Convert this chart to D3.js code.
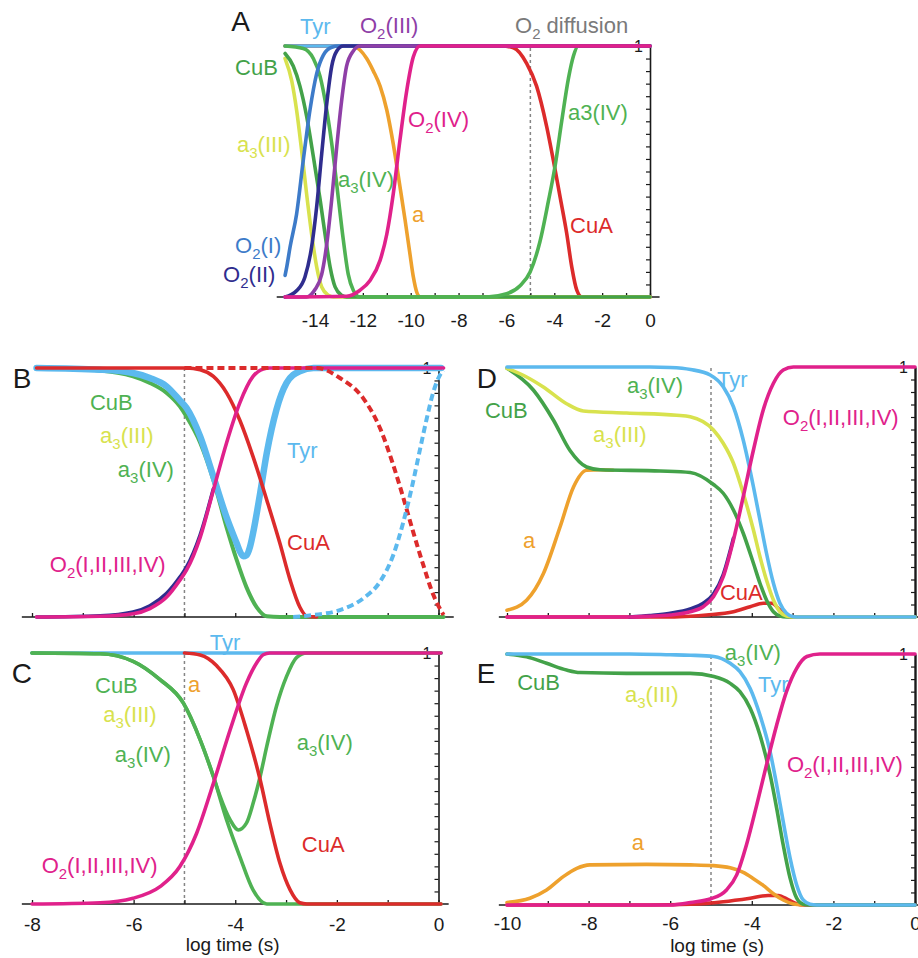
<!DOCTYPE html>
<html>
<head>
<meta charset="utf-8">
<script src="https://cdn.jsdelivr.net/npm/d3@7"></script>
<style>
  body { margin: 0; background: #fff; }
  svg { display: block; font-family: "Liberation Sans", Arial, Helvetica, sans-serif; }
</style>
</head>
<body>
<div id="chart"></div>
<script>
/* Five panels of fraction-completed curves vs log time */

// ---- panel A values [log time, fraction] ----
const aTyr = [[-15.25, 1], [0, 1]];
const aA3III = [[-15.25, 0.95], [-14.97, 0.86], [-14.77, 0.745], [-14.56, 0.585], [-14.35, 0.41], [-14.14, 0.25], [-13.93, 0.12], [-13.72, 0.04], [-13.44, 0.007], [-13.23, 0], [0, 0]];
const aCuB = [[-15.25, 0.97], [-14.91, 0.92], [-14.63, 0.84], [-14.35, 0.72], [-14.07, 0.56], [-13.79, 0.39], [-13.58, 0.25], [-13.37, 0.12], [-13.16, 0.04], [-12.89, 0.007], [-12.68, 0], [0, 0]];
const aA3IV = [[-15.25, 1], [-14.49, 0.99], [-14.07, 0.95], [-13.79, 0.88], [-13.51, 0.745], [-13.23, 0.56], [-13.02, 0.39], [-12.82, 0.23], [-12.61, 0.09], [-12.4, 0.027], [-12.12, 0], [-6.82, 0], [-5.99, 0.013], [-5.43, 0.045], [-5.01, 0.1], [-4.6, 0.22], [-4.25, 0.38], [-3.97, 0.52], [-3.69, 0.7], [-3.41, 0.87], [-3.2, 0.96], [-3.0, 1], [0, 1]];
const aO2I = [[-15.25, 0.086], [-15.18, 0.12], [-15.04, 0.2], [-14.77, 0.33], [-14.49, 0.545], [-14.21, 0.745], [-13.93, 0.89], [-13.65, 0.964], [-13.3, 0.995], [-13.0, 1], [0, 1]];
const aO2II = [[-15.25, 0], [-14.77, 0.025], [-14.42, 0.08], [-14.14, 0.2], [-13.93, 0.36], [-13.72, 0.57], [-13.51, 0.77], [-13.3, 0.92], [-13.09, 0.98], [-12.82, 1], [0, 1]];
const aO2III = [[-15.25, 0], [-14.35, 0], [-14.0, 0.03], [-13.72, 0.09], [-13.51, 0.21], [-13.3, 0.39], [-13.09, 0.6], [-12.89, 0.78], [-12.68, 0.92], [-12.4, 0.98], [-12.12, 1], [0, 1]];
const aO2IV = [[-15.25, 0], [-12.68, 0.003], [-12.12, 0.027], [-11.7, 0.066], [-11.28, 0.146], [-11.0, 0.25], [-10.73, 0.41], [-10.45, 0.625], [-10.17, 0.82], [-9.89, 0.957], [-9.61, 1], [0, 1]];
const aHemeA = [[-15.25, 1], [-12.47, 1], [-12.12, 0.984], [-11.84, 0.95], [-11.56, 0.9], [-11.28, 0.84], [-11.0, 0.745], [-10.73, 0.61], [-10.45, 0.44], [-10.24, 0.31], [-10.03, 0.17], [-9.89, 0.08], [-9.75, 0.02], [-9.61, 0], [0, 0]];
const aCuA = [[-15.25, 1], [-6.2, 1], [-5.71, 0.993], [-5.15, 0.93], [-4.74, 0.84], [-4.32, 0.68], [-4.04, 0.545], [-3.76, 0.4], [-3.48, 0.253], [-3.27, 0.12], [-3.06, 0.027], [-2.85, 0], [0, 0]];

// ---- panel B ----
const bTyr = [[-7.91, 1], [-6.66, 0.993], [-6.01, 0.98], [-5.68, 0.96], [-5.35, 0.926], [-5.09, 0.87], [-4.96, 0.84], [-4.69, 0.725], [-4.43, 0.564], [-4.17, 0.4], [-3.97, 0.295], [-3.91, 0.264], [-3.84, 0.244], [-3.78, 0.248], [-3.71, 0.282], [-3.65, 0.336], [-3.51, 0.497], [-3.38, 0.658], [-3.19, 0.832], [-2.99, 0.94], [-2.73, 0.987], [-2.46, 1], [0.05, 1]];
const bTyrDash = [[-2.86, 0], [-2.46, 0.008], [-1.94, 0.028], [-1.48, 0.075], [-1.15, 0.142], [-0.89, 0.249], [-0.69, 0.383], [-0.5, 0.543], [-0.36, 0.677], [-0.23, 0.798], [-0.1, 0.905], [0.03, 0.972], [0.1, 0.99]];
const bCuB = [[-7.91, 1], [-6.66, 0.99], [-6.01, 0.966], [-5.68, 0.94], [-5.35, 0.9], [-5.09, 0.846], [-4.96, 0.805], [-4.69, 0.7], [-4.43, 0.55], [-4.17, 0.36], [-3.97, 0.228], [-3.78, 0.12], [-3.58, 0.04], [-3.38, 0.003], [-3.12, 0], [0.1, 0]];
const bCuA = [[-7.91, 1], [-4.96, 1], [-4.69, 0.993], [-4.43, 0.966], [-4.17, 0.9], [-3.91, 0.79], [-3.65, 0.644], [-3.38, 0.47], [-3.12, 0.295], [-2.92, 0.148], [-2.73, 0.04], [-2.59, 0.003], [-2.4, 0]];
const bCuADash = [[-5, 1], [-2.4, 1], [-1.94, 0.96], [-1.48, 0.878], [-1.15, 0.758], [-0.89, 0.61], [-0.69, 0.477], [-0.5, 0.343], [-0.3, 0.209], [-0.1, 0.088], [0.1, 0.008]];
const bO2I = [[-7.91, 0], [-6.66, 0.005], [-6.01, 0.02], [-5.68, 0.045], [-5.35, 0.095], [-5.09, 0.16], [-4.96, 0.2], [-4.69, 0.33], [-4.43, 0.515]];
const bO2 = [[-7.91, 0], [-6.66, 0.003], [-6.01, 0.013], [-5.68, 0.034], [-5.35, 0.08], [-5.09, 0.148], [-4.96, 0.188], [-4.69, 0.32], [-4.43, 0.51], [-4.17, 0.7], [-3.91, 0.86], [-3.65, 0.966], [-3.45, 0.996], [-3.32, 1], [0.1, 1]];

// ---- panel C ----
const cTyr = [[-8, 1], [0.05, 1]];
const cCuB = [[-8, 1], [-6.66, 0.997], [-6.01, 0.967], [-5.48, 0.894], [-5.02, 0.8], [-4.69, 0.654], [-4.43, 0.508], [-4.17, 0.335], [-3.91, 0.189], [-3.65, 0.056], [-3.38, 0], [0.05, 0]];
const cA3IV = [[-8, 1], [-6.66, 0.997], [-6.01, 0.967], [-5.48, 0.894], [-5.02, 0.8], [-4.69, 0.654], [-4.43, 0.508], [-4.3, 0.43], [-4.1, 0.335], [-3.94, 0.295], [-3.78, 0.322], [-3.65, 0.4], [-3.51, 0.508], [-3.38, 0.628], [-3.19, 0.787], [-2.99, 0.907], [-2.79, 0.983], [-2.59, 1], [0.05, 1]];
const cCuA = [[-5, 1], [-4.69, 0.992], [-4.37, 0.95], [-4.04, 0.854], [-3.78, 0.694], [-3.51, 0.495], [-3.32, 0.322], [-3.12, 0.162], [-2.92, 0.056], [-2.73, 0.005], [-2.59, 0], [0.05, 0]];
const cO2 = [[-8, 0], [-6.66, 0.005], [-6.01, 0.023], [-5.48, 0.069], [-5.09, 0.149], [-4.76, 0.282], [-4.43, 0.481], [-4.1, 0.694], [-3.78, 0.88], [-3.58, 0.96], [-3.45, 0.993], [-3.32, 1], [0.05, 1]];

// ---- panel D ----
const dTyr = [[-10, 1], [-6.5, 1], [-6, 0.998], [-5.5, 0.99], [-5.02, 0.968], [-4.7, 0.921], [-4.45, 0.841], [-4.21, 0.708], [-3.96, 0.521], [-3.8, 0.388], [-3.64, 0.255], [-3.47, 0.135], [-3.31, 0.055], [-3.15, 0.015], [-2.98, 0.001], [-2.82, 0], [0, 0]];
const dA3III = [[-10, 0.995], [-9.52, 0.96], [-9.11, 0.92], [-8.54, 0.853], [-8.13, 0.824], [-7.07, 0.816], [-5.84, 0.807], [-5.51, 0.801], [-4.94, 0.748], [-4.7, 0.695], [-4.45, 0.615], [-4.21, 0.495], [-3.96, 0.348], [-3.8, 0.241], [-3.64, 0.148], [-3.47, 0.068], [-3.31, 0.021], [-3.15, 0.004], [-2.98, 0], [0, 0]];
const dCuB = [[-10, 0.995], [-9.35, 0.907], [-8.86, 0.787], [-8.46, 0.667], [-8.05, 0.6], [-7.72, 0.589], [-6.25, 0.584], [-5.51, 0.578], [-4.94, 0.53], [-4.7, 0.495], [-4.45, 0.428], [-4.21, 0.335], [-3.96, 0.215], [-3.8, 0.135], [-3.64, 0.068], [-3.47, 0.021], [-3.31, 0.004], [-3.15, 0], [0, 0]];
const dHemeA = [[-10, 0.027], [-9.52, 0.067], [-9.11, 0.173], [-8.7, 0.36], [-8.37, 0.52], [-8.05, 0.587], [-7.72, 0.589], [-7.4, 0.587]];
const dO2I = [[-7, 0], [-6.5, 0.006], [-6, 0.015], [-5.51, 0.032], [-5.19, 0.055], [-4.94, 0.092], [-4.7, 0.17], [-4.45, 0.315]];
const dO2 = [[-10, 0], [-7, 0], [-6.5, 0.003], [-6, 0.008], [-5.51, 0.021], [-5.19, 0.041], [-4.94, 0.081], [-4.7, 0.161], [-4.45, 0.308], [-4.21, 0.481], [-3.96, 0.668], [-3.72, 0.828], [-3.47, 0.935], [-3.23, 0.988], [-2.98, 1], [0, 1]];
const dCuA = [[-10, 0], [-6, 0], [-5.5, 0.003], [-5.11, 0.008], [-4.45, 0.021], [-4.04, 0.041], [-3.72, 0.055], [-3.51, 0.055], [-3.31, 0.028], [-3.06, 0], [0, 0]];

// ---- panel E ----
const eTyr = [[-10, 1], [-7, 1], [-6, 0.997], [-5.5, 0.995], [-4.93, 0.99], [-4.53, 0.963], [-4.29, 0.93], [-4.04, 0.863], [-3.8, 0.757], [-3.55, 0.61], [-3.39, 0.478], [-3.23, 0.332], [-3.06, 0.186], [-2.9, 0.08], [-2.74, 0.02], [-2.57, 0.003], [-2.41, 0], [0, 0]];
const eCuB = [[-10, 1], [-9.52, 0.989], [-9.03, 0.963], [-8.54, 0.936], [-8.21, 0.926], [-7.07, 0.923], [-5.51, 0.923], [-4.93, 0.91], [-4.53, 0.883], [-4.29, 0.85], [-4.04, 0.784], [-3.8, 0.677], [-3.55, 0.518], [-3.39, 0.385], [-3.23, 0.239], [-3.06, 0.106], [-2.9, 0.027], [-2.74, 0.003], [-2.6, 0], [0, 0]];
const eHemeA = [[-10, 0.01], [-9.44, 0.027], [-9.03, 0.06], [-8.62, 0.113], [-8.29, 0.146], [-7.97, 0.16], [-6.58, 0.162], [-5.5, 0.16], [-4.94, 0.157], [-4.53, 0.148], [-4.21, 0.13], [-3.96, 0.105], [-3.72, 0.078], [-3.47, 0.045], [-3.23, 0.02], [-2.98, 0.004], [-2.75, 0]];
const eCuA = [[-10, 0], [-6.5, 0], [-5.5, 0.003], [-4.7, 0.013], [-4.04, 0.027], [-3.6, 0.038], [-3.35, 0.038], [-3.1, 0.02], [-2.9, 0.005], [-2.75, 0], [0, 0]];
const eO2 = [[-10, 0], [-6, 0], [-5.5, 0.01], [-5.0, 0.025], [-4.62, 0.06], [-4.37, 0.12], [-4.13, 0.24], [-3.88, 0.398], [-3.64, 0.558], [-3.39, 0.717], [-3.15, 0.85], [-2.9, 0.943], [-2.65, 0.99], [-2.33, 1], [0, 1]];

// tick labels on the bottom axes
const ticksA = [-14, -12, -10, -8, -6, -4, -2, 0];
const ticksC = [-8, -6, -4, -2, 0];
const ticksE = [-10, -8, -6, -4, -2, 0];
const o2Arrival = -5; // dashed line: O2 diffusion time

const width = 918, height = 958;

const col = {
  tyr: "#5cb9ee", green: "#4fb253", dgreen: "#43a249", yellow: "#d8e24e",
  orange: "#eea12d", red: "#dc2b2b", magenta: "#e0218b", purple: "#8f3fa7",
  blue: "#3d7bc9", navy: "#2f2d8e", gray: "#7a7a7a", ink: "#1a1a1a"
};

const svg = d3.select("#chart")
  .append("svg")
  .attr("width", width)
  .attr("height", height)
  .attr("viewBox", [0, 0, width, height]);

const LABEL = 22;

function label(g, x, y, d) {
  const size = d.size || LABEL;
  const t = g.append("text")
    .attr("x", x(d.x))
    .attr("y", y(d.y))
    .attr("fill", d.c)
    .attr("font-size", size);
  const parts = d.t.split("_");
  t.append("tspan").text(parts[0]);
  for (let i = 1; i < parts.length; i++) {
    t.append("tspan").attr("font-size", size * 0.68).attr("dy", size * 0.27).text(parts[i][0]);
    t.append("tspan").attr("dy", -size * 0.27).text(parts[i].slice(1));
  }
}

function panel(p) {
  const x = d3.scaleLinear().domain(p.xDomain).range(p.xRange);
  const y = d3.scaleLinear().domain([0, 1]).range(p.yRange);
  const g = svg.append("g");

  // dashed O2 diffusion marker
  g.append("line")
    .attr("x1", x(o2Arrival)).attr("x2", x(o2Arrival))
    .attr("y1", y(0)).attr("y2", y(1))
    .attr("stroke", "#858585").attr("stroke-width", 1.5)
    .attr("stroke-dasharray", "3,3");

  // bottom axis line, ticks pointing up
  g.append("line")
    .attr("x1", x(p.axisExtent[0])).attr("x2", x(p.axisExtent[1]))
    .attr("y1", y(0)).attr("y2", y(0))
    .attr("stroke", col.ink).attr("stroke-width", 1.6);

  const minor = g.append("g")
    .attr("transform", `translate(0,${y(0)})`)
    .call(d3.axisBottom(x).tickValues(d3.range(Math.ceil(p.axisExtent[0]), 1)).tickSize(-4).tickFormat(""));
  minor.select(".domain").remove();
  minor.selectAll("line").attr("stroke", col.ink).attr("stroke-width", 1.3);

  if (p.ticks) {
    const lab = g.append("g")
      .attr("transform", `translate(0,${y(0)})`)
      .call(d3.axisBottom(x).tickValues(p.ticks).tickSize(0).tickPadding(p.pad).tickFormat(d => String(d)));
    lab.select(".domain").remove();
    lab.selectAll("text").attr("font-size", 19).attr("fill", col.ink)
      .attr("font-family", '"Liberation Sans", Arial, sans-serif');
  }

  // right axis: 0..1 with small ticks, labelled "1" at the top
  const right = g.append("g")
    .attr("transform", `translate(${x(0)},0)`)
    .call(d3.axisLeft(y).tickValues(d3.range(0, 1.0001, 0.05)).tickSize(4).tickSizeOuter(0).tickFormat(""));
  right.select(".domain").attr("stroke", col.ink).attr("stroke-width", p.rightW || 1.6);
  right.selectAll(".tick line").attr("stroke", col.ink).attr("stroke-width", 1.2);
  g.append("text")
    .attr("x", x(0) - 7).attr("y", y(1)).attr("dy", "0.36em")
    .attr("text-anchor", "end").attr("font-size", 16).attr("fill", col.ink)
    .text("1");

  // curves
  const line = d3.line()
    .x(d => x(d[0]))
    .y(d => y(d[1]))
    .curve(d3.curveMonotoneX);

  for (const s of p.series) {
    g.append("path")
      .datum(s.data)
      .attr("d", line)
      .attr("fill", "none")
      .attr("stroke", s.c)
      .attr("stroke-width", s.w || 3.6)
      .attr("stroke-linecap", s.dash ? "butt" : "round")
      .attr("stroke-linejoin", "round")
      .attr("stroke-dasharray", s.dash || null);
  }

  for (const d of p.labels) label(g, x, y, d);

  if (p.xTitle) {
    g.append("text")
      .attr("x", x(p.xTitle)).attr("y", y(0) + 47)
      .attr("text-anchor", "middle").attr("font-size", 19).attr("fill", col.ink)
      .text("log time (s)");
  }
}

panel({
  xDomain: [-14, 0], xRange: [315, 650], yRange: [297, 46],
  axisExtent: [-15.6, 0.4], ticks: ticksA, pad: 17,
  series: [
    { data: aHemeA, c: col.orange },
    { data: aCuA, c: col.red },
    { data: aTyr, c: col.tyr },
    { data: aA3III, c: col.yellow },
    { data: aCuB, c: col.dgreen },
    { data: aA3IV, c: col.green },
    { data: aO2I, c: col.blue },
    { data: aO2II, c: col.navy },
    { data: aO2III, c: col.purple },
    { data: aO2IV, c: col.magenta }
  ],
  labels: [
    { t: "A", x: -17.5, y: 1.06, c: col.ink, size: 28 },
    { t: "Tyr", x: -14.63, y: 1.047, c: col.tyr },
    { t: "O_2(III)", x: -12.12, y: 1.052, c: col.purple },
    { t: "O_2 diffusion", x: -5.64, y: 1.052, c: col.gray },
    { t: "CuB", x: -17.34, y: 0.884, c: col.dgreen },
    { t: "a_3(III)", x: -17.26, y: 0.578, c: col.yellow },
    { t: "O_2(I)", x: -17.34, y: 0.175, c: col.blue },
    { t: "O_2(II)", x: -17.84, y: 0.06, c: col.navy },
    { t: "a_3(IV)", x: -13.04, y: 0.438, c: col.green },
    { t: "a", x: -9.95, y: 0.299, c: col.orange },
    { t: "O_2(IV)", x: -10.11, y: 0.677, c: col.magenta },
    { t: "a3(IV)", x: -3.43, y: 0.705, c: col.green },
    { t: "CuA", x: -3.34, y: 0.255, c: col.red }
  ]
});

panel({
  xDomain: [-8, 0], xRange: [32, 438.5], yRange: [617, 368],
  axisExtent: [-8.2, 0.3],
  series: [
    { data: bCuB, c: col.green, w: 4 },
    { data: bTyr, c: col.tyr, w: 6.5 },
    { data: bCuA, c: col.red },
    { data: bO2I, c: col.navy },
    { data: bO2, c: col.magenta },
    { data: bCuADash, c: col.red, w: 4, dash: "7,4" },
    { data: bTyrDash, c: col.tyr, w: 4, dash: "7,4" }
  ],
  labels: [
    { t: "B", x: -8.38, y: 0.92, c: col.ink, size: 28 },
    { t: "CuB", x: -6.86, y: 0.831, c: col.green },
    { t: "a_3(III)", x: -6.66, y: 0.699, c: col.yellow },
    { t: "a_3(IV)", x: -6.31, y: 0.562, c: col.green },
    { t: "Tyr", x: -2.98, y: 0.639, c: col.tyr },
    { t: "CuA", x: -2.98, y: 0.269, c: col.red },
    { t: "O_2(I,II,III,IV)", x: -7.65, y: 0.181, c: col.magenta }
  ]
});

panel({
  xDomain: [-8, 0], xRange: [32, 438.5], yRange: [904, 653],
  axisExtent: [-8.2, 0.2], ticks: ticksC, pad: 14, xTitle: -4.05,
  series: [
    { data: cTyr, c: col.tyr },
    { data: cCuB, c: col.green },
    { data: cA3IV, c: col.green },
    { data: cCuA, c: col.red },
    { data: cO2, c: col.magenta }
  ],
  labels: [
    { t: "C", x: -8.4, y: 0.88, c: col.ink, size: 28 },
    { t: "Tyr", x: -4.5, y: 1.012, c: col.tyr },
    { t: "CuB", x: -6.76, y: 0.841, c: col.green },
    { t: "a", x: -4.93, y: 0.845, c: col.orange },
    { t: "a_3(III)", x: -6.6, y: 0.725, c: col.yellow },
    { t: "a_3(IV)", x: -6.37, y: 0.566, c: col.green },
    { t: "a_3(IV)", x: -2.79, y: 0.614, c: col.green },
    { t: "CuA", x: -2.69, y: 0.207, c: col.red },
    { t: "O_2(I,II,III,IV)", x: -7.81, y: 0.124, c: col.magenta }
  ]
});

panel({
  xDomain: [-10, 0], xRange: [507, 915], yRange: [617, 367],
  axisExtent: [-10.2, 0.2], rightW: 2.4,
  series: [
    { data: dCuA, c: col.red },
    { data: dHemeA, c: col.orange },
    { data: dCuB, c: col.dgreen },
    { data: dA3III, c: col.yellow },
    { data: dTyr, c: col.tyr },
    { data: dO2I, c: col.navy },
    { data: dO2, c: col.magenta }
  ],
  labels: [
    { t: "D", x: -10.74, y: 0.916, c: col.ink, size: 28 },
    { t: "CuB", x: -10.54, y: 0.796, c: col.dgreen },
    { t: "a_3(IV)", x: -7.06, y: 0.896, c: col.green },
    { t: "Tyr", x: -4.85, y: 0.92, c: col.tyr },
    { t: "a_3(III)", x: -7.89, y: 0.7, c: col.yellow },
    { t: "O_2(I,II,III,IV)", x: -3.24, y: 0.768, c: col.magenta },
    { t: "a", x: -9.61, y: 0.276, c: col.orange },
    { t: "CuA", x: -4.78, y: 0.068, c: col.red }
  ]
});

panel({
  xDomain: [-10, 0], xRange: [507, 915], yRange: [905, 654],
  axisExtent: [-10.2, 0.2], ticks: ticksE, pad: 12, xTitle: -4.85, rightW: 2.4,
  series: [
    { data: eCuA, c: col.red },
    { data: eHemeA, c: col.orange },
    { data: eCuB, c: col.dgreen },
    { data: eTyr, c: col.tyr },
    { data: eO2, c: col.magenta }
  ],
  labels: [
    { t: "E", x: -10.74, y: 0.884, c: col.ink, size: 28 },
    { t: "CuB", x: -9.75, y: 0.857, c: col.dgreen },
    { t: "a_3(IV)", x: -4.66, y: 0.976, c: col.green },
    { t: "Tyr", x: -3.85, y: 0.849, c: col.tyr },
    { t: "a_3(III)", x: -7.11, y: 0.809, c: col.yellow },
    { t: "O_2(I,II,III,IV)", x: -3.14, y: 0.53, c: col.magenta },
    { t: "a", x: -6.94, y: 0.219, c: col.orange }
  ]
});
</script>
</body>
</html>
